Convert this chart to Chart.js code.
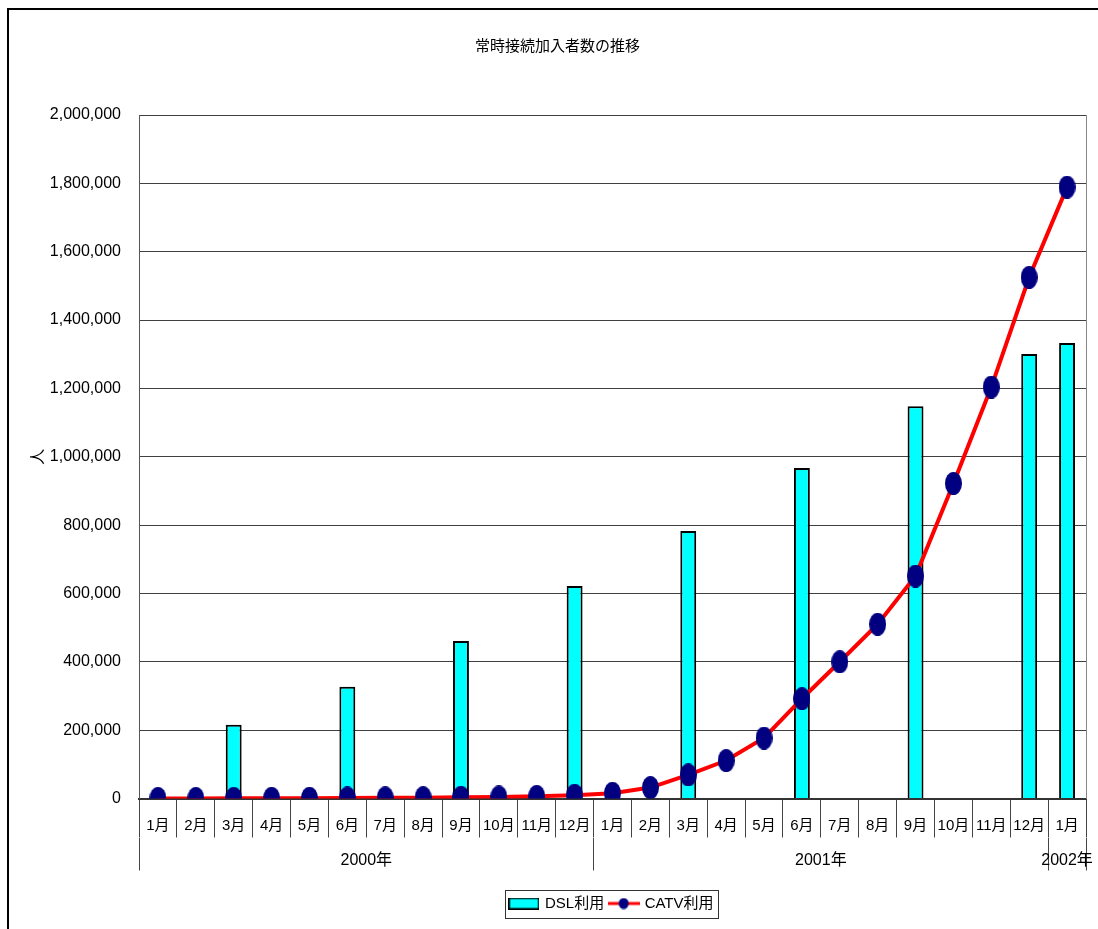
<!DOCTYPE html>
<html lang="ja">
<head>
<meta charset="utf-8">
<title>常時接続加入者数の推移</title>
<script src="https://cdn.jsdelivr.net/npm/chart.js@4.4.1/dist/chart.umd.min.js"></script>
<style>
  html, body { margin: 0; padding: 0; background: #fff; width: 1098px; height: 929px; overflow: hidden; }
  #frame { position: absolute; left: 7px; top: 8px; width: 1200px; height: 1000px;
           border-left: 2px solid #000; border-top: 2px solid #000; }
  #wrap { position: absolute; left: 0; top: 0; width: 1118px; height: 929px; }
</style>
</head>
<body>
<div id="frame"></div>
<div id="wrap"><canvas id="c" width="1118" height="929"></canvas></div>
<script>
// Month categories, grouped by year
const monthLabels = [
  '1月','2月','3月','4月','5月','6月','7月','8月','9月','10月','11月','12月',
  '1月','2月','3月','4月','5月','6月','7月','8月','9月','10月','11月','12月',
  '1月'
];
const yearLabels = ['2000年', '2001年', '2002年'];
const yearMonthCounts = [12, 12, 1];

// Subscriber counts (persons); null where no figure was published
const dslValues = [
  null, null, 216000, null, null, 327000, null, null, 461000, null, null, 622000,
  null, null, 783000, null, null, 967000, null, null, 1148000, null, null, 1301000,
  1333000
];
const catvValues = [
  200, 300, 500, 700, 900, 1500, 2000, 2500, 3500, 4500, 6300, 9700,
  15500, 32000, 69000, 111000, 177000, 292000, 400000, 510000, 651000, 922000, 1204000, 1525000,
  1789000
];

const yMin = 0, yMax = 2000000, yStep = 200000;

const FONT = "'Liberation Sans', 'Noto Sans CJK JP', sans-serif";
Chart.defaults.color = '#000';

// Year band boundaries and label positions on the secondary category strip
const yearBounds = [0];
yearMonthCounts.forEach(n => yearBounds.push(yearBounds[yearBounds.length - 1] + n));
const yearCenters = yearLabels.map((_, i) => (yearBounds[i] + yearBounds[i + 1]) / 2);
const yearTickValues = [...yearBounds, ...yearCenters].sort((a, b) => a - b);

// Marker images
function ellipseImage(w, h, color) {
  const c = document.createElement('canvas');
  c.width = w; c.height = h;
  const g = c.getContext('2d');
  g.fillStyle = color;
  g.beginPath();
  g.ellipse(w / 2, h / 2, w / 2, h / 2, 0, 0, Math.PI * 2);
  g.fill();
  return c;
}
const dotImg = ellipseImage(17, 23, '#000080');

const legendLineImg = (() => {
  const c = document.createElement('canvas');
  c.width = 32; c.height = 12;
  const g = c.getContext('2d');
  g.fillStyle = '#ff0000';
  g.fillRect(0, 4.5, 32, 3);
  g.fillStyle = '#000080';
  g.beginPath();
  g.ellipse(16, 6, 5, 5.5, 0, 0, Math.PI * 2);
  g.fill();
  return c;
})();

const legendBoxImg = (() => {
  const c = document.createElement('canvas');
  c.width = 31; c.height = 12;
  const g = c.getContext('2d');
  g.fillStyle = '#00ffff';
  g.fillRect(1, 1, 29, 10);
  g.strokeStyle = '#000';
  g.lineWidth = 1.5;
  g.strokeRect(0.75, 0.75, 29.5, 10.5);
  return c;
})();

// Moves the legend row to the right and frames it
const legendFrame = {
  id: 'legendFrame',
  afterLayout(chart) {
    const L = chart.legend;
    if (!L) return;
    const dx = 612 - (L.left + L.right) / 2;
    L.left += dx;
    L.right += dx;
  },
  afterDraw(chart) {
    const L = chart.legend;
    if (!L || !L.legendHitBoxes || !L.legendHitBoxes.length) return;
    const boxes = L.legendHitBoxes;
    const first = boxes[0], last = boxes[boxes.length - 1];
    const x1 = first.left - 5.5;
    const x2 = last.left + last.width + 4.5;
    const cy = first.top + first.height / 2;
    const ctx = chart.ctx;
    ctx.save();
    ctx.strokeStyle = '#333';
    ctx.lineWidth = 1;
    ctx.strokeRect(Math.round(x1) + 0.5, Math.round(cy - 14) + 0.5, Math.round(x2 - x1), 28);
    ctx.restore();
  }
};

new Chart(document.getElementById('c'), {
  data: {
    labels: monthLabels,
    datasets: [
      {
        type: 'bar',
        label: 'DSL利用',
        data: dslValues,
        xAxisID: 'x', yAxisID: 'y',
        backgroundColor: '#00ffff',
        borderColor: '#000',
        borderWidth: 2,
        barPercentage: 0.42,
        categoryPercentage: 1,
        order: 2
      },
      {
        type: 'line',
        label: 'CATV利用',
        data: catvValues,
        xAxisID: 'x', yAxisID: 'y',
        borderColor: '#ff0000',
        borderWidth: 4,
        tension: 0,
        fill: false,
        pointStyle: dotImg,
        pointRadius: 9,
        pointHoverRadius: 9,
        order: 1
      }
    ]
  },
  options: {
    responsive: false,
    animation: false,
    events: [],
    layout: { padding: { left: 29, right: 32, top: 0, bottom: 8 } },
    plugins: {
      title: {
        display: true,
        text: '常時接続加入者数の推移',
        color: '#000',
        font: { family: "'Noto Sans CJK JP', sans-serif", size: 15, weight: 'normal' },
        padding: { top: 36, bottom: 61 }
      },
      legend: {
        display: true,
        position: 'bottom',
        labels: {
          usePointStyle: true,
          pointStyleWidth: 27,
          padding: 6,
          color: '#000',
          font: { family: FONT, size: 15 },
          generateLabels: () => [
            { text: 'DSL利用', pointStyle: legendBoxImg, fillStyle: '#00ffff', strokeStyle: '#000',
              lineWidth: 0, hidden: false, datasetIndex: 0, fontColor: '#000' },
            { text: 'CATV利用', pointStyle: legendLineImg, fillStyle: '#000080', strokeStyle: '#ff0000',
              lineWidth: 0, hidden: false, datasetIndex: 1, fontColor: '#000' }
          ]
        }
      },
      tooltip: { enabled: false }
    },
    scales: {
      x: {
        type: 'category',
        position: 'bottom',
        weight: 0,
        offset: true,
        grid: { offset: true, drawOnChartArea: false, tickLength: 39, color: '#444', lineWidth: 1 },
        border: { color: '#333', width: 2 },
        ticks: { autoSkip: false, maxRotation: 0, minRotation: 0, padding: -21, color: '#000',
                 font: { family: FONT, size: 15 } },
        afterFit: s => { s.height = 39; }
      },
      x2: {
        type: 'linear',
        position: 'bottom',
        weight: 1,
        min: yearBounds[0],
        max: yearBounds[yearBounds.length - 1],
        afterBuildTicks: s => { s.ticks = yearTickValues.map(v => ({ value: v })); },
        grid: {
          drawOnChartArea: false,
          tickLength: 33,
          lineWidth: 1,
          color: ctx => (ctx.tick && yearBounds.includes(ctx.tick.value)) ? '#444' : 'rgba(0,0,0,0)'
        },
        border: { display: false },
        ticks: {
          autoSkip: false, maxRotation: 0, minRotation: 0, padding: -19.6, color: '#000',
          font: { family: FONT, size: 16 },
          callback: v => { const i = yearCenters.indexOf(v); return i >= 0 ? yearLabels[i] : ''; }
        },
        afterFit: s => { s.height = 52.5; }
      },
      y: {
        type: 'linear',
        position: 'left',
        min: yMin,
        max: yMax,
        ticks: {
          stepSize: yStep, padding: 18, color: '#000',
          font: { family: FONT, size: 16 },
          callback: v => v.toLocaleString('en-US')
        },
        grid: { color: '#404040', lineWidth: 1, drawTicks: false },
        border: { color: '#555', width: 1 },
        title: { display: true, text: '人', color: '#000', font: { family: FONT, size: 16 }, padding: 0 },
        afterFit: s => { s.width = 110; }
      },
      yRight: {
        type: 'linear',
        position: 'right',
        min: yMin,
        max: yMax,
        ticks: { display: false },
        grid: { drawOnChartArea: false, drawTicks: false },
        border: { color: '#888', width: 1 },
        afterFit: s => { s.width = 0; }
      }
    }
  },
  plugins: [legendFrame]
});
</script>
</body>
</html>
